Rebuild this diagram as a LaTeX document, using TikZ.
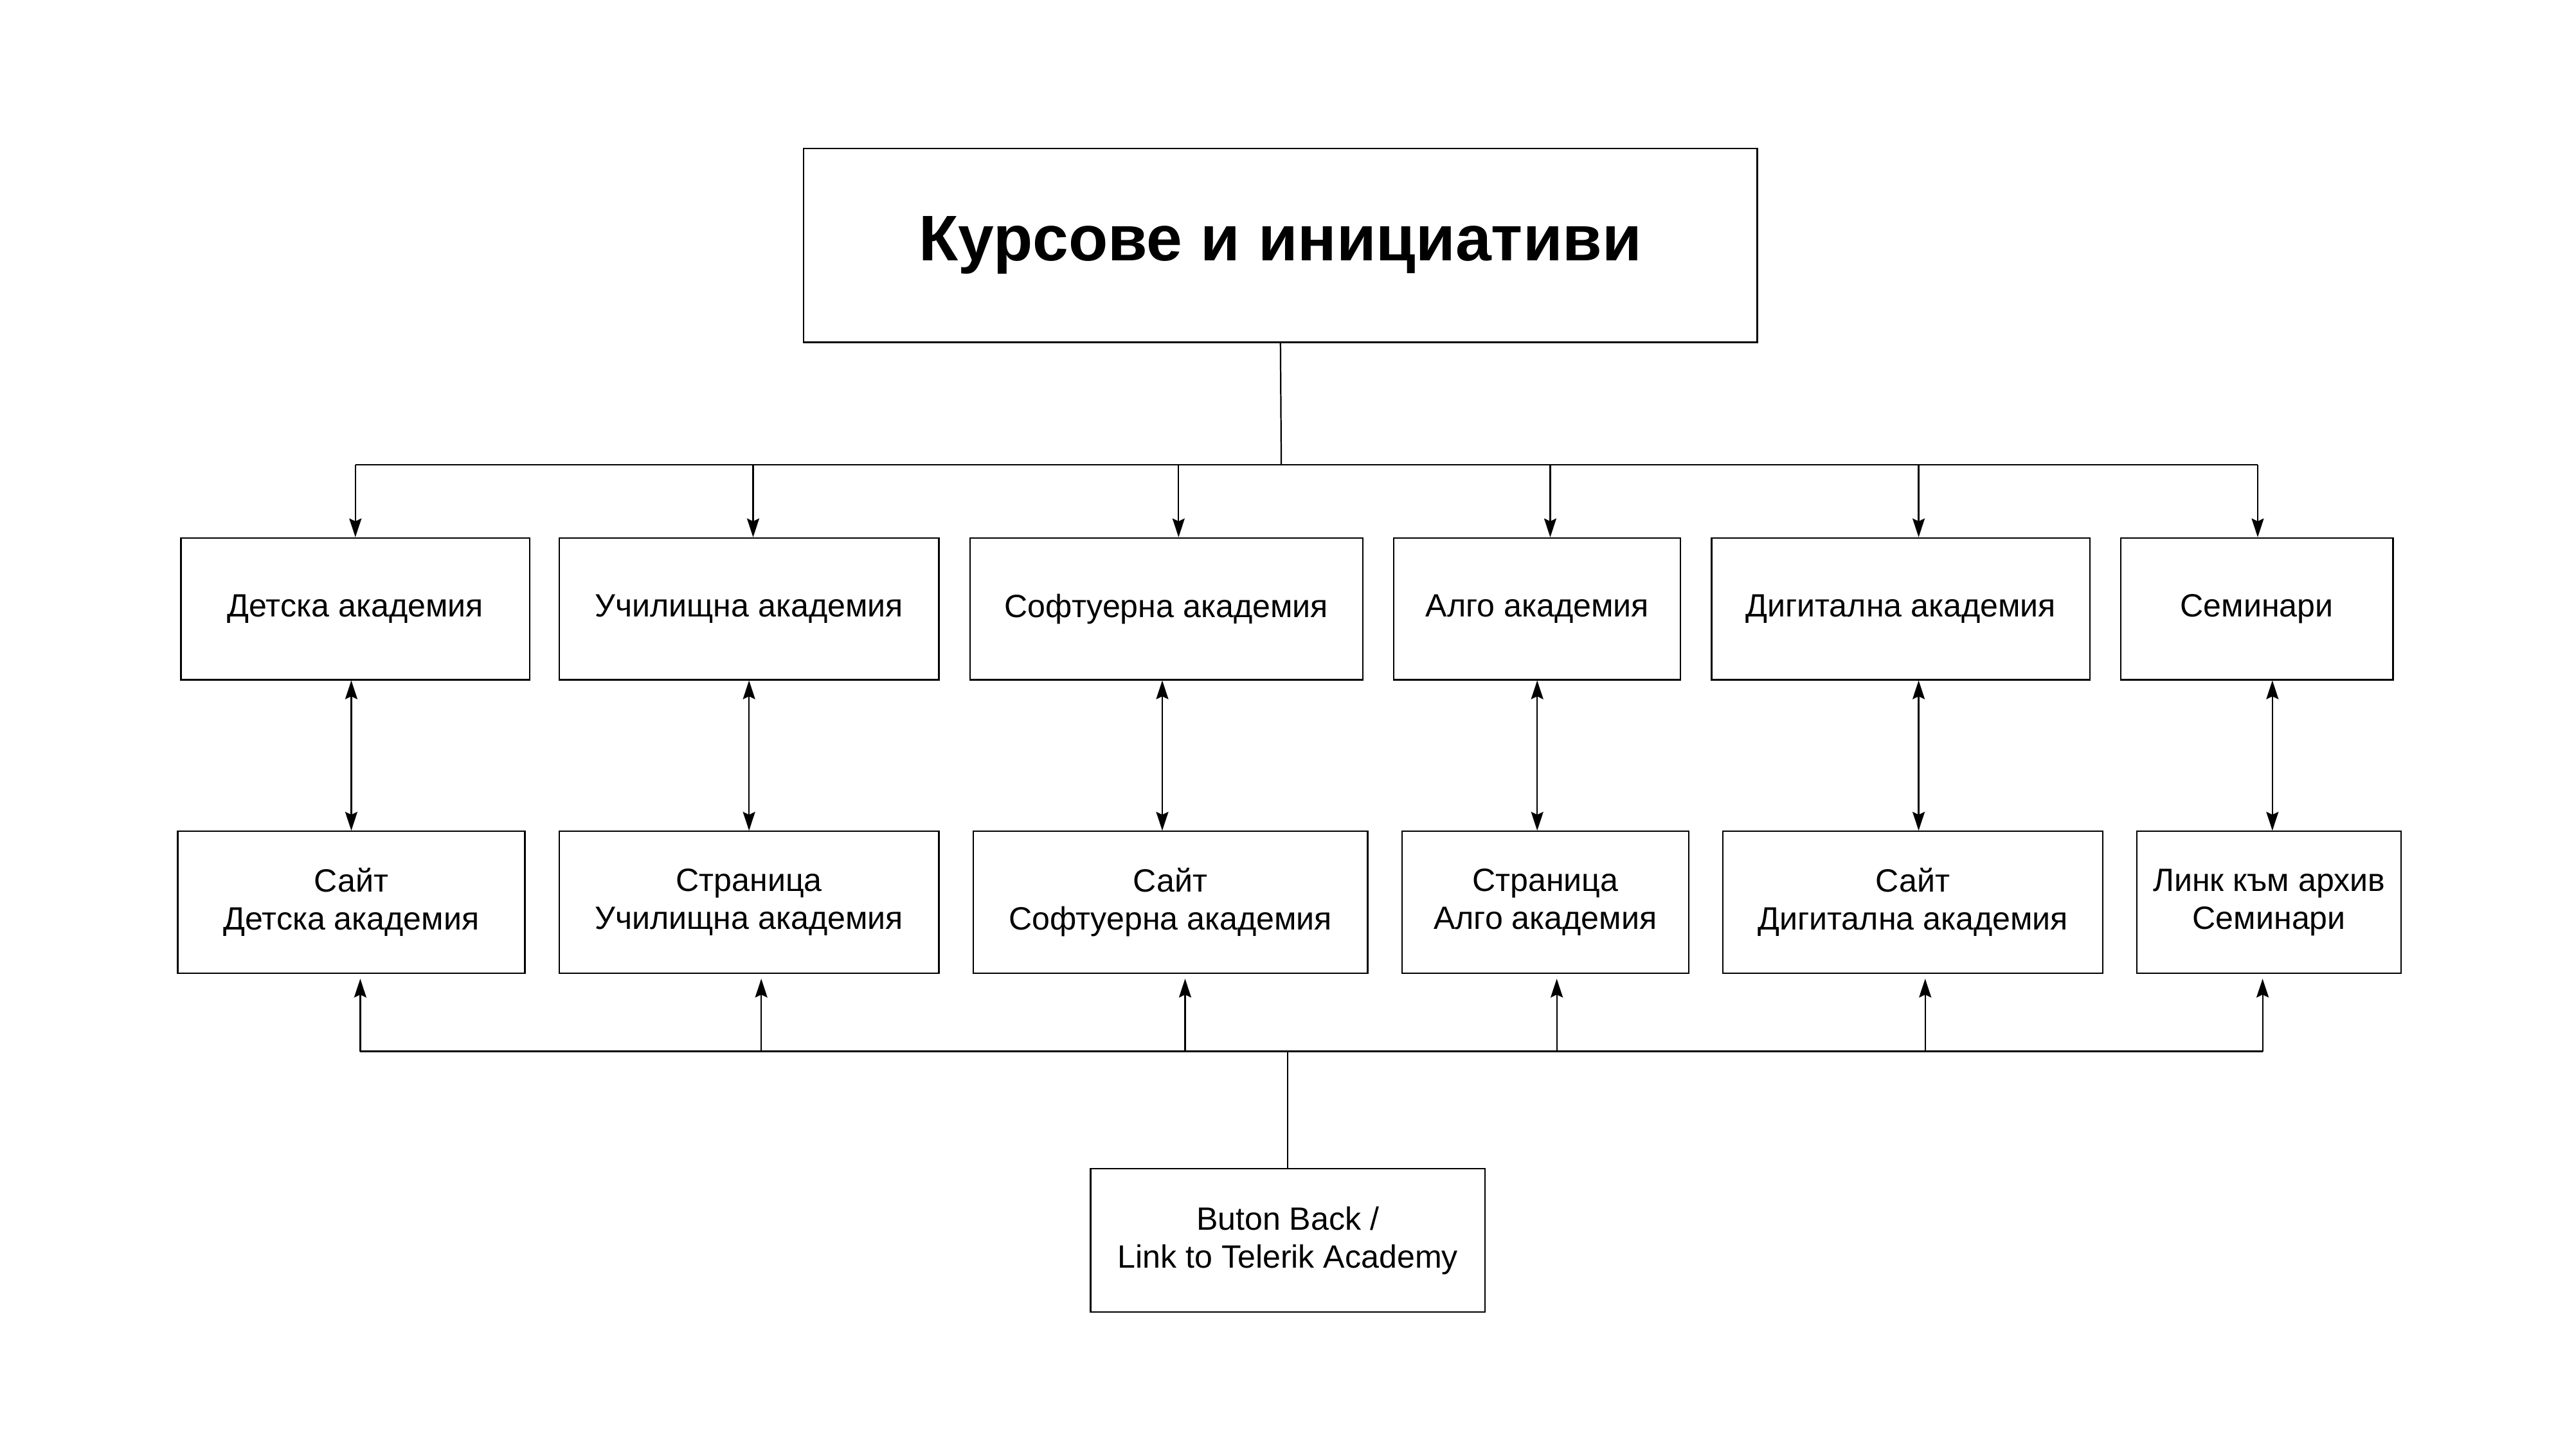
\documentclass[tikz,border=0pt]{standalone}
\usepackage{fontspec}
\setmainfont{Liberation Sans}
\usetikzlibrary{positioning,arrows.meta}

\begin{document}
\begin{tikzpicture}[
  x=0.4mm, y=-0.4mm,
  >={Stealth[length=4.6mm,width=3mm,inset=0.7mm]},
  pagebox/.style={draw=black, line width=1pt, minimum height=34.8mm, align=center, inner sep=0pt, font=\fontsize{22.5}{26.5}\selectfont},
  link/.style={line width=1pt}
]
  \useasboundingbox (0,0) rectangle (1568,893);
  \node[pagebox, minimum width=234mm, minimum height=47.6mm, font=\fontsize{45}{50}\selectfont\bfseries] (main) at (785.5,150.5) {Курсове и инициативи};
  % academies
  \node[pagebox, minimum width=85.6mm] (dk) at (218,373.5) {Детска академия};
  \node[pagebox, minimum width=93.2mm] (ua) at (459.5,373.5) {Училищна академия};
  \node[pagebox, minimum width=96.4mm] (sa) at (715.5,373.5) {Софтуерна академия};
  \node[pagebox, minimum width=70.4mm] (aa) at (943,373.5) {Алго академия};
  \node[pagebox, minimum width=92.8mm] (da) at (1166,373.5) {Дигитална академия};
  \node[pagebox, minimum width=66.8mm] (sem) at (1384.5,373.5) {Семинари};
  % pages
  \node[pagebox, minimum width=85.2mm] (dkp) at (215.5,553.5) {Сайт\\Детска академия};
  \node[pagebox, minimum width=93.2mm] (uap) at (459.5,553.5) {Страница\\Училищна академия};
  \node[pagebox, minimum width=96.8mm] (sap) at (718,553.5) {Сайт\\Софтуерна академия};
  \node[pagebox, minimum width=70.4mm] (aap) at (948,553.5) {Страница\\Алго академия};
  \node[pagebox, minimum width=93.2mm] (dap) at (1173.5,553.5) {Сайт\\Дигитална академия};
  \node[pagebox, minimum width=64.8mm] (semp) at (1392,553.5) {Линк към архив\\Семинари};
  \node[pagebox, minimum width=96.8mm, minimum height=35.2mm] (back) at (790,761) {Buton Back /\\Link to Telerik Academy};

  \coordinate (topbus) at (786,285);
  \coordinate (botbus) at (790,645);
  \draw[link] (main.south) -- (topbus);
  \draw[link] (dk.north |- topbus) -- ([xshift=0.2mm]sem.north |- topbus);
  \foreach \n/\dx in {dk/0,ua/1,sa/3,aa/3.2,da/4.4,sem/0.2}
    \draw[link,->] ([xshift=\dx mm]\n.north |- topbus) -- ([xshift=\dx mm]\n.north);
  \foreach \a/\b/\dx in {dk/dkp/0,ua/uap/0,sa/sap/-2,aa/aap/-2,da/dap/1.4,sem/semp/0.8}
    \draw[link,<->] ([xshift=\dx mm]\b.north |- \a.south) -- ([xshift=\dx mm]\b.north);
  \draw[link] (back.north) -- (botbus);
  \draw[link] ([xshift=2.2mm]dkp.south |- botbus) -- ([xshift=-1.6mm]semp.south |- botbus);
  \foreach \n/\dx in {dkp/2.2,uap/3,sap/3.6,aap/2.8,dap/3,semp/-1.6}
    \draw[link,->,shorten >=1.2mm] ([xshift=\dx mm]\n.south |- botbus) -- ([xshift=\dx mm]\n.south);
\end{tikzpicture}
\end{document}
